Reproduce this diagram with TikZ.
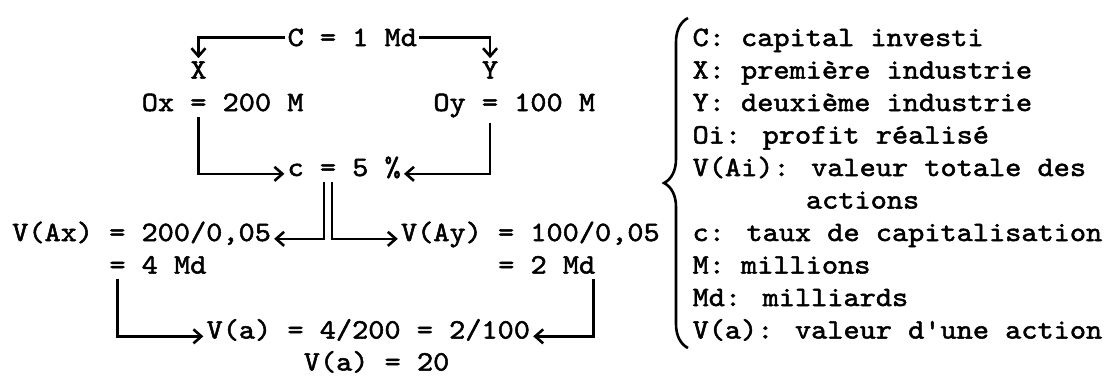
\documentclass[tikz,border=0pt]{standalone}
\usepackage{fontspec}
\newfontfamily\typew{lmmono10-regular}[Extension=.otf, FakeStretch=1.1, FakeBold=1.8]
\usepackage{tikz}
\usetikzlibrary{arrows.meta,calc,decorations.pathreplacing}
\def\cw{16.2}
\tikzset{
  tw/.style={font=\typew\fontsize{28}{32}\selectfont, inner sep=0pt, anchor=base west},
  link/.style={line width=2.6pt, -{Straight Barb[length=8pt,width=14pt]},
               shorten >=3pt},
  keybrace/.style={line width=2.6pt, decorate,
                   decoration={brace, amplitude=24pt, aspect=0.5}},
}

\begin{document}
\begin{tikzpicture}[x=1pt,y=-1pt]
  \useasboundingbox (0,0) rectangle (1113,376);
  % Capital and the two industries
  \node[tw] (cap) at (287.4,46) {C = 1 Md};
  \node[tw] (indx) at (190.2,78.5) {X};
  \node[tw] (indy) at (481.8,78.5) {Y};
  \node[tw] (profx) at (141.6,111) {Ox = 200 M};
  \node[tw] (profy) at (433.2,111) {Oy = 100 M};
  % Capitalisation rate
  \node[tw] (rate) at (287.4,176) {c = 5 \%};
  \coordinate (rateq) at ($(rate.base west)+(2.5*\cw,0)$);
  % Total share values
  \node[tw] (valx) at (12,241) {V(Ax) = 200/0,05};
  \node[tw] (valxb) at (109.2,273.5) {= 4 Md};
  \node[tw] (valy) at (400.8,241) {V(Ay) = 100/0,05};
  \node[tw] (valyb) at (498,273.5) {= 2 Md};
  % Value of one share
  \node[tw] (share) at (206.4,338.5) {V(a) = 4/200 = 2/100};
  \node[tw] (sharefin) at (303.6,370.5) {V(a) = 20};

  % Connectors
  \draw[link, shorten <=2pt] (cap.west) -| (indx.north);
  \draw[link, shorten <=2pt] (cap.east) -| (indy.north);
  \draw[link, shorten <=5pt] (indx |- profx.south) |- (rate.mid west);
  \draw[link, shorten <=5pt] (indy |- profy.south) |- (rate.mid east);
  \draw[link, shorten <=6pt] ([xshift=-4pt]rateq) |- (valx.mid east);
  \draw[link, shorten <=6pt] ([xshift=4pt]rateq) |- (valy.mid west);
  \draw[link, shorten <=5pt] ($(valxb.base west)+(0.5*\cw,0)$) |- (share.mid west);
  \draw[link, shorten <=5pt] ($(valyb.base east)+(-2,0)$) |- (share.mid east);

  % Key
  \draw[keybrace] (688,348) -- (688,18);
  \foreach \r/\c/\t in {1/0/C: capital investi, 2/0/X: première industrie,
      3/0/Y: deuxième industrie, 4/0/Oi: profit réalisé,
      5/0/V(Ai): valeur totale des, 6/7/actions,
      7/0/c: taux de capitalisation, 8/0/M: millions,
      9/0/Md: milliards, 10/0/V(a): valeur d'une action} {
    \node[tw] (key\r) at ({692.4+\c*\cw},{46+(\r-1)*32.5}) {\t};
  }
\end{tikzpicture}
\end{document}
